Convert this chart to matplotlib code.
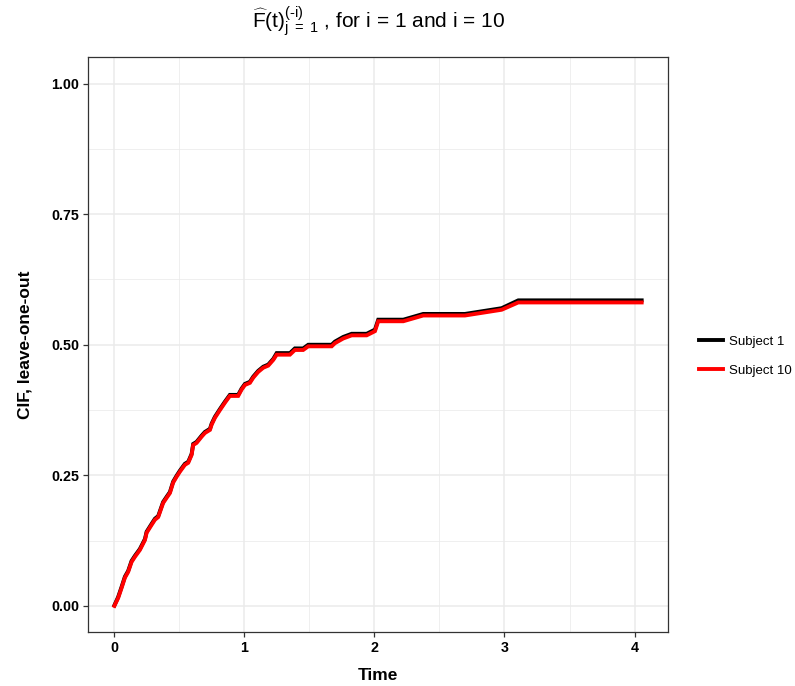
import matplotlib
matplotlib.use("Agg")
import numpy as np
from matplotlib import pyplot as plt
from matplotlib.lines import Line2D

plt.rcParams["font.family"] = ["Liberation Sans", "DejaVu Sans"]
plt.rcParams["mathtext.fontset"] = "custom"
plt.rcParams["mathtext.rm"] = "Liberation Sans"
plt.rcParams["mathtext.it"] = "Liberation Sans"
plt.rcParams["mathtext.bf"] = "Liberation Sans:bold"

# leave-one-out CIF estimates (time, cif)
time = [0.000, 0.029, 0.055, 0.081, 0.106, 0.132, 0.158, 0.196, 0.235, 0.248,
        0.286, 0.312, 0.337, 0.375, 0.402, 0.427, 0.452, 0.478, 0.504, 0.542,
        0.568, 0.594, 0.606, 0.632, 0.671, 0.696, 0.735, 0.748, 0.773, 0.812,
        0.850, 0.888, 0.952, 0.978, 1.004, 1.042, 1.068, 1.106, 1.145, 1.183,
        1.222, 1.248, 1.350, 1.388, 1.452, 1.491, 1.671, 1.696, 1.760, 1.825,
        1.940, 2.004, 2.029, 2.222, 2.375, 2.696, 2.978, 3.106, 4.055]

cif_subject10 = [0.000, 0.015, 0.034, 0.054, 0.065, 0.084, 0.094, 0.107, 0.126, 0.140,
                 0.155, 0.165, 0.170, 0.197, 0.207, 0.216, 0.236, 0.247, 0.257, 0.270,
                 0.274, 0.289, 0.308, 0.312, 0.324, 0.331, 0.337, 0.347, 0.360, 0.375,
                 0.389, 0.402, 0.402, 0.414, 0.423, 0.427, 0.437, 0.448, 0.456, 0.460,
                 0.471, 0.481, 0.481, 0.490, 0.490, 0.497, 0.497, 0.503, 0.512, 0.518,
                 0.518, 0.526, 0.545, 0.545, 0.556, 0.556, 0.567, 0.581, 0.581]

cif_subject1 = [0.001, 0.017, 0.036, 0.056, 0.067, 0.086, 0.096, 0.109, 0.128, 0.142,
                0.157, 0.167, 0.172, 0.199, 0.209, 0.218, 0.238, 0.249, 0.259, 0.272,
                0.276, 0.291, 0.310, 0.314, 0.326, 0.333, 0.339, 0.349, 0.362, 0.377,
                0.391, 0.404, 0.404, 0.416, 0.425, 0.429, 0.439, 0.450, 0.458, 0.462,
                0.473, 0.484, 0.484, 0.493, 0.493, 0.500, 0.500, 0.506, 0.515, 0.521,
                0.521, 0.529, 0.548, 0.548, 0.559, 0.559, 0.570, 0.585, 0.585]

subjects = ["Subject 1", "Subject 10"]
colours = ["black", "red"]

fig = plt.figure(figsize=(7.95, 6.86), dpi=100)
ax = fig.add_axes([0.1107, 0.0787, 0.7296, 0.8375])

ax.plot(time, cif_subject1, color=colours[0], lw=2.8, solid_joinstyle="miter", zorder=3)
ax.plot(time, cif_subject10, color=colours[1], lw=2.8, solid_joinstyle="miter", zorder=4)

x_hi = max(time)
ax.set_xlim(-0.05 * x_hi, 1.05 * x_hi)
ax.set_ylim(-0.05, 1.05)

ax.set_xticks([0, 1, 2, 3, 4])
ax.set_xticks([0.5, 1.5, 2.5, 3.5], minor=True)
ax.set_yticks([0.0, 0.25, 0.5, 0.75, 1.0])
ax.set_yticklabels(["0.00", "0.25", "0.50", "0.75", "1.00"])
ax.set_yticks([0.125, 0.375, 0.625, 0.875], minor=True)

ax.grid(which="major", color="#EBEBEB", lw=1.1, zorder=0)
ax.grid(which="minor", color="#EBEBEB", lw=0.55, zorder=0)
ax.set_axisbelow(True)

for side in ax.spines.values():
    side.set_color("#333333")
    side.set_linewidth(0.9)

ax.tick_params(which="major", length=3.5, width=0.9, color="#333333", pad=3,
               labelsize=10.3, labelcolor="black")
ax.tick_params(which="minor", length=0)
for lab in ax.get_xticklabels() + ax.get_yticklabels():
    lab.set_fontweight("bold")

ax.set_xlabel("Time", fontsize=12.5, fontweight="bold", labelpad=9)
ax.set_ylabel("CIF, leave-one-out", fontsize=12.5, fontweight="bold", labelpad=13)

ax.set_title(r"$\widehat{\mathrm{F}}\mathrm{(t)}^{(\text{-}i)}_{\mathrm{j\ =\ 1}}$ , for i = 1 and i = 10",
             fontsize=15, pad=21)

handles = [Line2D([], [], color=c, lw=2.8) for c in colours]
fig.legend(handles, subjects, loc="center left", bbox_to_anchor=(0.868, 0.481),
           frameon=False, fontsize=9.5, handlelength=1.8, handletextpad=0.45,
           labelspacing=1.25, borderpad=0.2)

fig.savefig("out.png", dpi=100, facecolor="white")
